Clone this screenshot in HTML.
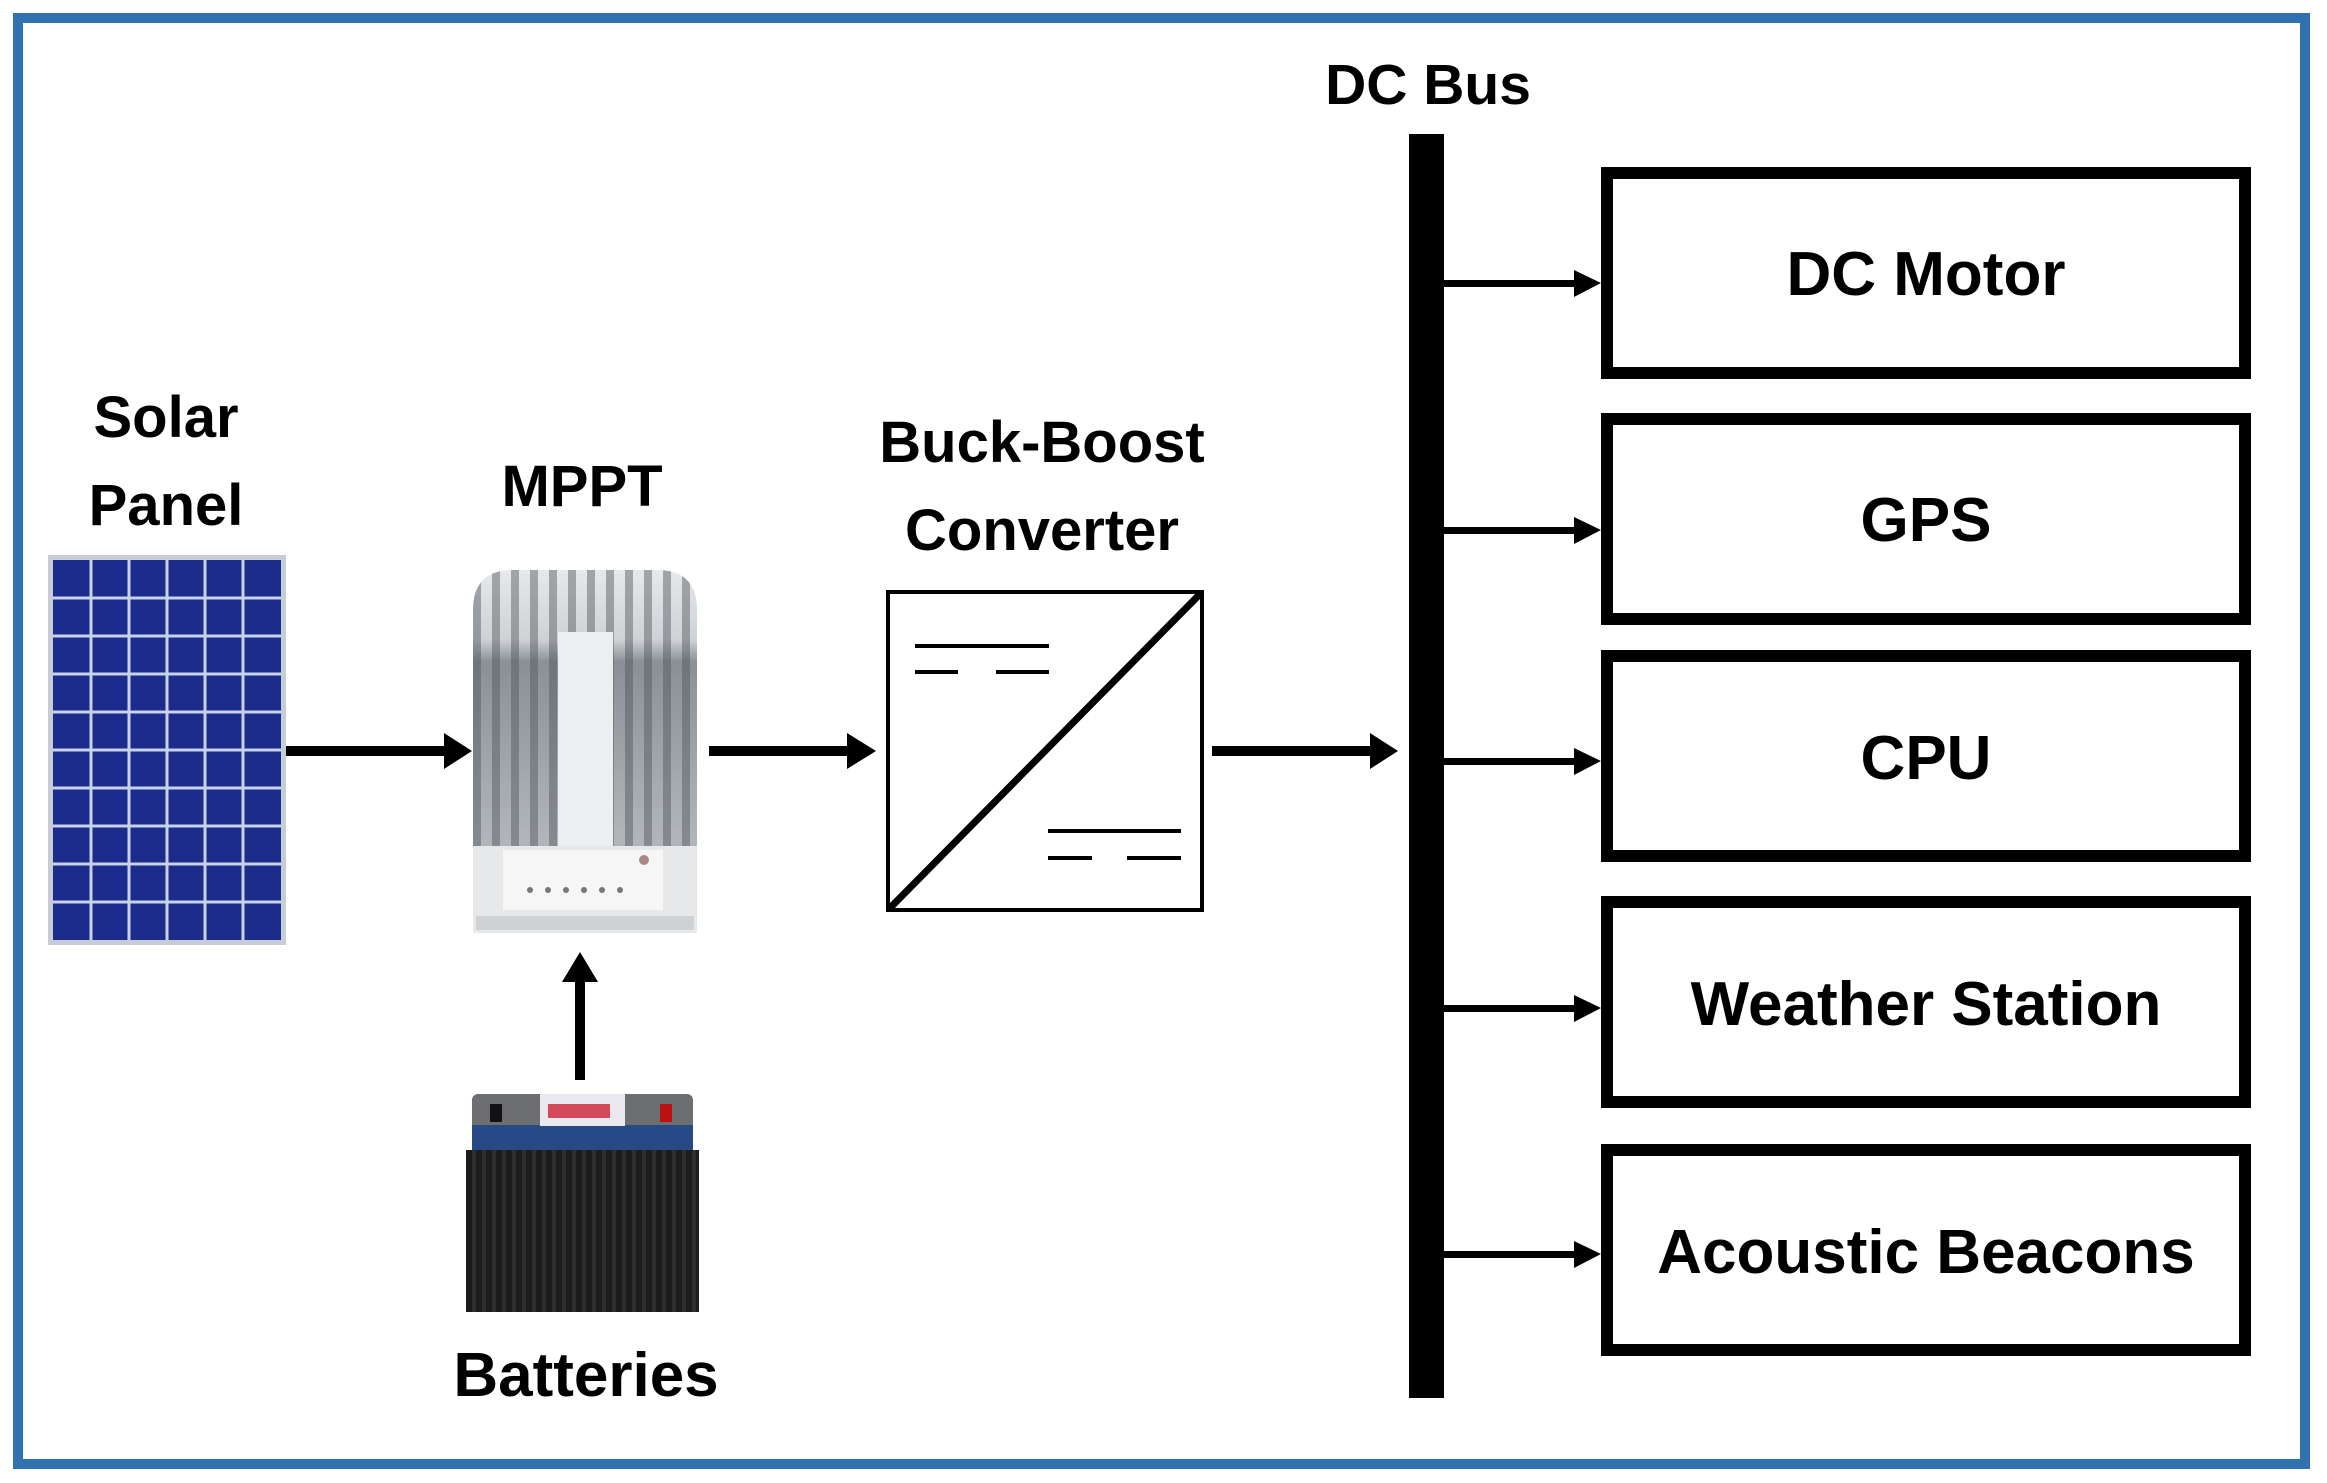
<!DOCTYPE html>
<html><head><meta charset="utf-8"><style>
html,body{margin:0;padding:0;background:#fff;}
svg{display:block;}
text{font-family:"Liberation Sans",sans-serif;font-weight:bold;fill:#000;}
</style></head><body>
<svg width="2327" height="1483" viewBox="0 0 2327 1483" xmlns="http://www.w3.org/2000/svg">
<defs>
<linearGradient id="fin" x1="0" y1="570" x2="0" y2="848" gradientUnits="userSpaceOnUse">
<stop offset="0" stop-color="#e6e8ea"/><stop offset="0.25" stop-color="#cfd2d5"/><stop offset="0.33" stop-color="#8a9096"/><stop offset="1" stop-color="#b3b7bb"/>
</linearGradient>
<pattern id="stripes" x="473" y="0" width="19" height="1483" patternUnits="userSpaceOnUse">
<rect x="0" width="8" height="1483" fill="#4d545a" opacity="0.45"/>
</pattern>
<pattern id="bat" x="472" y="0" width="10" height="1483" patternUnits="userSpaceOnUse">
<rect width="10" height="1483" fill="#1c1c1c"/><rect width="4" height="1483" fill="#2e2e2e"/>
</pattern>
</defs>
<rect x="0" y="0" width="2327" height="1483" fill="#fff"/>
<rect x="18" y="18" width="2287" height="1446" fill="none" stroke="#3071b0" stroke-width="10"/>

<!-- Solar panel -->
<text x="166" y="437" font-size="58" text-anchor="middle">Solar</text>
<text x="166" y="525" font-size="58" text-anchor="middle">Panel</text>
<rect x="48" y="555" width="238" height="390" fill="#c8ccd6"/>
<rect x="53" y="560" width="228" height="380" fill="#1b2c8c"/>
<g stroke="#c9d2ec" stroke-width="3">
<line x1="91" y1="560" x2="91" y2="940"/><line x1="129" y1="560" x2="129" y2="940"/><line x1="167" y1="560" x2="167" y2="940"/><line x1="205" y1="560" x2="205" y2="940"/><line x1="243" y1="560" x2="243" y2="940"/>
<line x1="53" y1="598" x2="281" y2="598"/><line x1="53" y1="636" x2="281" y2="636"/><line x1="53" y1="674" x2="281" y2="674"/><line x1="53" y1="712" x2="281" y2="712"/><line x1="53" y1="750" x2="281" y2="750"/><line x1="53" y1="788" x2="281" y2="788"/><line x1="53" y1="826" x2="281" y2="826"/><line x1="53" y1="864" x2="281" y2="864"/><line x1="53" y1="902" x2="281" y2="902"/>
</g>

<!-- MPPT -->
<text x="582" y="506" font-size="58" text-anchor="middle">MPPT</text>
<path d="M473 848 V610 Q473 570 513 570 H657 Q697 570 697 610 V848 Z" fill="url(#fin)"/>
<path d="M473 848 V610 Q473 570 513 570 H657 Q697 570 697 610 V848 Z" fill="url(#stripes)"/>
<rect x="558" y="632" width="55" height="214" fill="#eceef0"/>
<rect x="473" y="846" width="224" height="87" fill="#e6e8ea"/>
<rect x="503" y="850" width="160" height="60" fill="#f6f6f6"/>
<g fill="#777"><circle cx="530" cy="890" r="3"/><circle cx="548" cy="890" r="3"/><circle cx="566" cy="890" r="3"/><circle cx="584" cy="890" r="3"/><circle cx="602" cy="890" r="3"/><circle cx="620" cy="890" r="3"/></g>
<circle cx="644" cy="860" r="5" fill="#a88"/>
<rect x="476" y="916" width="218" height="14" fill="#cfd2d5"/>

<!-- Converter -->
<text x="1042" y="462" font-size="58" text-anchor="middle">Buck-Boost</text>
<text x="1042" y="550" font-size="58" text-anchor="middle">Converter</text>
<rect x="888" y="592" width="314" height="318" fill="#fff" stroke="#000" stroke-width="4"/>
<line x1="890" y1="908" x2="1200" y2="594" stroke="#000" stroke-width="7"/>
<g stroke="#000" stroke-width="4">
<line x1="915" y1="646" x2="1049" y2="646"/><line x1="915" y1="672" x2="958" y2="672"/><line x1="996" y1="672" x2="1049" y2="672"/>
<line x1="1048" y1="831" x2="1181" y2="831"/><line x1="1048" y1="858" x2="1092" y2="858"/><line x1="1127" y1="858" x2="1181" y2="858"/>
</g>

<!-- Battery -->
<rect x="472" y="1094" width="221" height="58" rx="6" fill="#6c6e72"/>
<rect x="472" y="1125" width="221" height="25" fill="#274a86"/>
<rect x="540" y="1094" width="85" height="32" fill="#e8e8ee"/>
<rect x="548" y="1104" width="62" height="14" fill="#c23" opacity="0.8"/>
<rect x="490" y="1104" width="12" height="18" fill="#111"/>
<rect x="660" y="1104" width="12" height="18" fill="#b11"/>
<rect x="466" y="1150" width="233" height="162" fill="url(#bat)"/>
<text x="586" y="1396" font-size="62" text-anchor="middle">Batteries</text>

<!-- Arrows left -->
<g fill="#000">
<rect x="286" y="746" width="160" height="10"/><polygon points="444,733 472,751 444,769"/>
<rect x="709" y="746" width="140" height="10"/><polygon points="847,733 876,751 847,769"/>
<rect x="1212" y="746" width="160" height="10"/><polygon points="1370,733 1398,751 1370,769"/>
<rect x="575" y="980" width="10" height="100"/><polygon points="562,982 580,952 598,982"/>
</g>

<!-- DC Bus -->
<text x="1428" y="104" font-size="57" text-anchor="middle">DC Bus</text>
<rect x="1409" y="134" width="35" height="1264" fill="#000"/>

<!-- Loads -->
<g fill="none" stroke="#000" stroke-width="12">
<rect x="1607" y="173" width="638" height="200"/>
<rect x="1607" y="419" width="638" height="200"/>
<rect x="1607" y="656" width="638" height="200"/>
<rect x="1607" y="902" width="638" height="200"/>
<rect x="1607" y="1150" width="638" height="200"/>
</g>
<g fill="#000">
<rect x="1444" y="280" width="132" height="7"/><polygon points="1574,270 1601,283 1574,297"/>
<rect x="1444" y="527" width="132" height="7"/><polygon points="1574,517 1601,530 1574,544"/>
<rect x="1444" y="758" width="132" height="7"/><polygon points="1574,748 1601,761 1574,775"/>
<rect x="1444" y="1005" width="132" height="7"/><polygon points="1574,995 1601,1008 1574,1022"/>
<rect x="1444" y="1251" width="132" height="7"/><polygon points="1574,1241 1601,1254 1574,1268"/>
</g>
<g font-size="62" text-anchor="middle">
<text x="1926" y="295">DC Motor</text>
<text x="1926" y="541">GPS</text>
<text x="1926" y="779">CPU</text>
<text x="1926" y="1025">Weather Station</text>
<text x="1926" y="1273">Acoustic Beacons</text>
</g>
</svg>
</body></html>
